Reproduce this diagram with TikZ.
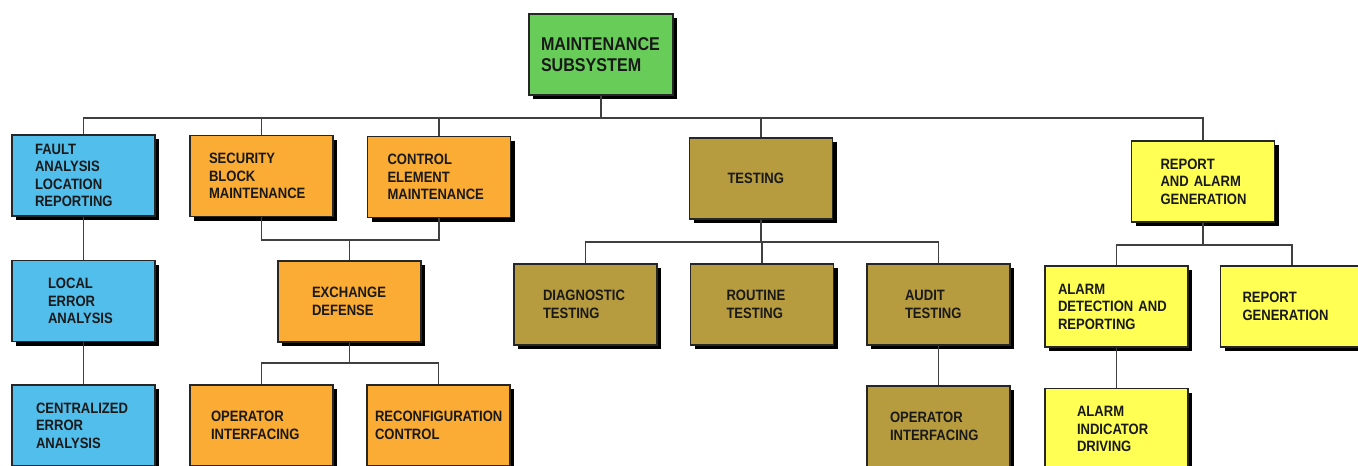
\documentclass[tikz,border=0pt]{standalone}
\usepackage{fontspec}
\setmainfont[FakeStretch=0.87]{Liberation Sans}
\usetikzlibrary{shadows}
\definecolor{cgreen}{RGB}{104,204,88}
\definecolor{cblue}{RGB}{82,190,236}
\definecolor{corange}{RGB}{250,172,52}
\definecolor{colive}{RGB}{182,156,62}
\definecolor{cyellow}{RGB}{255,255,84}
\begin{document}
\begin{tikzpicture}[x=1pt,y=-1pt,
  box/.style n args={2}{draw=black!85, line width=1.5pt, fill=#1,
    minimum width=143pt, minimum height=81pt, inner sep=0pt,
    text width=#2pt, align=left, text=black!90,
    font=\fontsize{15}{17.5}\selectfont\bfseries,
    drop shadow={shadow xshift=4pt, shadow yshift=-4pt, opacity=1, fill=black}},
  link/.style={draw=black!75, line width=1.2pt}]
\useasboundingbox (0,0) rectangle (1358,466);
\clip (0,0) rectangle (1358,466);

% junction levels
\coordinate (bus) at (0,118);
\coordinate (j1) at (0,240);
\coordinate (j2) at (0,363);
\coordinate (j3) at (0,242);
\coordinate (j4) at (0,245);

% connectors (drawn first, boxes cover them)
\node[box={cgreen}{120}, minimum width=144pt, font=\fontsize{18.5}{21.5}\selectfont\bfseries] (ms) at (601,54.5) {MAINTENANCE\\SUBSYSTEM};

\node[box={cblue}{97}]   (fault)   at (83.5,175.5) {FAULT\\ANALYSIS\\LOCATION\\REPORTING};
\node[box={corange}{105}] (secu)   at (261.5,176)  {SECURITY\\BLOCK\\MAINTENANCE};
\node[box={corange}{103}] (ctrl)   at (439,177)    {CONTROL\\ELEMENT\\MAINTENANCE};
\node[box={colive}{67}]   (test)   at (761,178.5)  {TESTING};
\node[box={cyellow}{85}]  (rep)    at (1203,181.5) {REPORT\\AND~ALARM\\GENERATION};

\node[box={cblue}{71}]    (local)  at (83.5,301)   {LOCAL\\ERROR\\ANALYSIS};
\node[box={cblue}{95}]    (central) at (83.5,425.5) {CENTRALIZED\\ERROR\\ANALYSIS};

\node[box={corange}{75}]  (exch)   at (349.5,301.5) {EXCHANGE\\DEFENSE};
\node[box={corange}{101}] (opi)    at (261.5,425.5) {OPERATOR\\INTERFACING};
\node[box={corange}{127}] (recon)  at (438.5,425.5) {RECONFIGURATION\\CONTROL};

\node[box={colive}{85}]   (diag)   at (585.5,304.5) {DIAGNOSTIC\\TESTING};
\node[box={colive}{71}]   (rout)   at (762,304.5)   {ROUTINE\\TESTING};
\node[box={colive}{67}]   (audit)  at (938.5,304.5) {AUDIT\\TESTING};
\node[box={colive}{97}]   (opi2)   at (938.5,426.5) {OPERATOR\\INTERFACING};

\node[box={cyellow}{117}] (alarmd) at (1116.5,306.5) {ALARM\\DETECTION~AND\\REPORTING};
\node[box={cyellow}{99}]  (repgen) at (1292,306.5)  {REPORT\\GENERATION};
\node[box={cyellow}{79}]  (alarmi) at (1116.5,429) {ALARM\\INDICATOR\\DRIVING};

% top level bus
\draw[link] (ms.south) -- (ms.south |- bus);
\draw[link] (fault.north) -- (fault.north |- bus) -- (rep.north |- bus) -- (rep.north);
\draw[link] (secu.north) -- (secu.north |- bus);
\draw[link] (ctrl.north) -- (ctrl.north |- bus);
\draw[link] (test.north) -- (test.north |- bus);

% fault column
\draw[link] (fault.south) -- (local.north);
\draw[link] (local.south) -- (central.north);

% security / control -> exchange
\draw[link] (secu.south) -- (secu.south |- j1) -- (ctrl.south |- j1) -- (ctrl.south);
\draw[link] (exch.north) -- (exch.north |- j1);
\draw[link] (exch.south) -- (exch.south |- j2);
\draw[link] (opi.north) -- (opi.north |- j2) -- (recon.north |- j2) -- (recon.north);

% testing
\draw[link] (test.south) -- (test.south |- j3);
\draw[link] (diag.north) -- (diag.north |- j3) -- (audit.north |- j3) -- (audit.north);
\draw[link] (rout.north) -- (rout.north |- j3);
\draw[link] (audit.south) -- (opi2.north);

% report
\draw[link] (rep.south) -- (rep.south |- j4);
\draw[link] (alarmd.north) -- (alarmd.north |- j4) -- (repgen.north |- j4) -- (repgen.north);
\draw[link] (alarmd.south) -- (alarmi.north);
\end{tikzpicture}
\end{document}
